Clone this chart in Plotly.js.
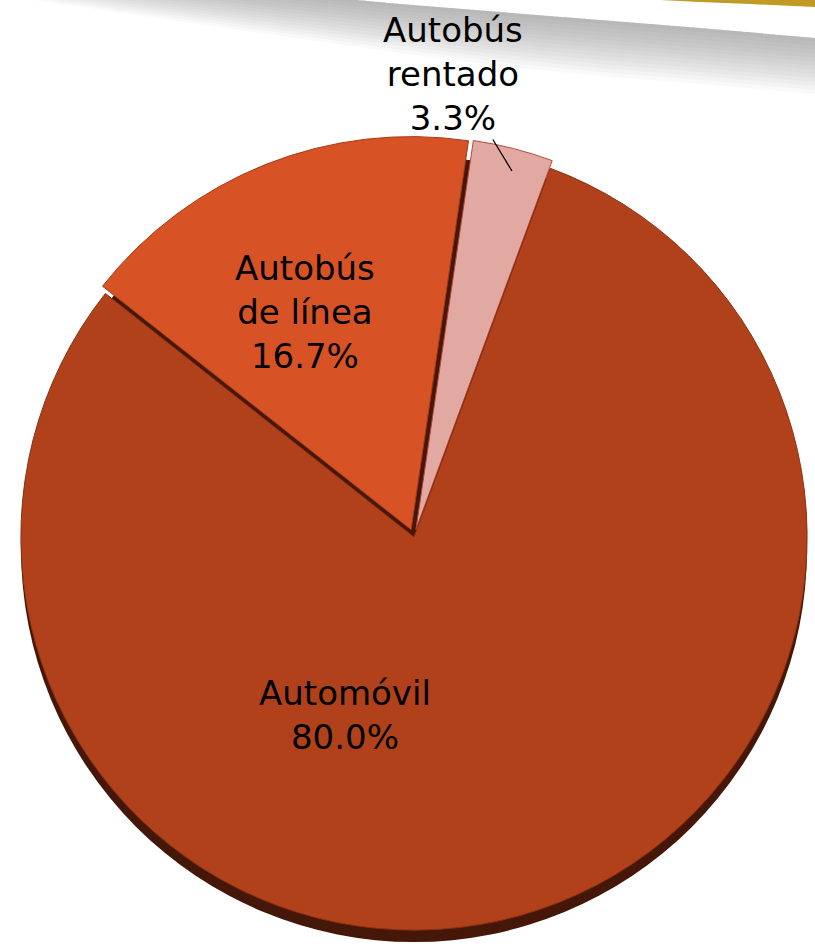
<!DOCTYPE html>
<html>
<head>
<meta charset="utf-8">
<script src="https://cdn.plot.ly/plotly-3.0.1.min.js"></script>
<style>html,body{margin:0;padding:0;background:#fff;}#chart{width:815px;height:948px;}</style>
</head>
<body>
<div id="chart"></div>
<script>
// ---- data ----
const categories = ['Autobús rentado', 'Automóvil', 'Autobús de línea'];
const labelLines = ['Autobús<br>rentado', 'Automóvil', 'Autobús<br>de línea'];
const shares = [3.3, 80.0, 16.7];

// ---- styles / label placement (pixels) ----
const sliceColors = ['#e2a9a2', '#b0411a', '#d75224'];
const sliceLines = ['#b8473a', '#8c3010', '#a63a14'];
const pulls = [0.02, 0, 0.02];
const labelCenters = [[453, 74], [345, 715], [305, 312]];
const labelArrowTip = [[512, 171], null, null];

const W = 815, H = 948;
function fx(x) { return x / W; }
function fy(y) { return 1 - y / H; }
function pathFrom(pts) {
  return 'M' + pts.map(p => fx(p[0]).toFixed(4) + ',' + fy(p[1]).toFixed(4)).join(' L') + ' Z';
}

// decorative swoosh in the top-right corner
const edge = [[-80,-45],[40,-30],[250,-10],[400,4],[500,12],[600,20],[700,28],[815,38]];
const shapes = [];
for (let i = 1; i <= 14; i++) {
  const d = i * 4;
  const lower = edge.map(p => {
    const t = Math.max(0, Math.min(1, (p[0] - 40) / 500));
    return [p[0], p[1] + d * (0.55 + 0.45 * t)];
  }).reverse();
  shapes.push({type: 'path', xref: 'paper', yref: 'paper', layer: 'below',
    path: pathFrom(edge.concat(lower)), fillcolor: '#5a5a5a', opacity: 0.038,
    line: {width: 0}});
}
shapes.push({type: 'path', xref: 'paper', yref: 'paper', layer: 'below',
  path: pathFrom([[660,0],[815,0],[815,7],[750,4],[700,2]]),
  fillcolor: '#c09a22', line: {width: 0}});

const shadow = {
  type: 'pie', values: [1], labels: ['sombra'], sort: false,
  marker: {colors: ['#441708'], line: {width: 0}},
  textinfo: 'none', hoverinfo: 'skip', showlegend: false,
  domain: {x: [0.0258, 0.9902], y: [0.0063, 0.8354]}
};

const pie = {
  type: 'pie',
  labels: categories,
  values: shares,
  textinfo: 'none',
  sort: false,
  direction: 'clockwise',
  rotation: 8.4,
  pull: pulls,
  marker: {colors: sliceColors, line: {color: sliceLines, width: 1}},
  hoverinfo: 'label+percent',
  showlegend: false,
  automargin: false,
  domain: {x: [0.01595, 1.0], y: [0.01055, 0.8565]}
};

const annotations = categories.map((c, i) => {
  const txt = labelLines[i] + '<br>' + shares[i].toFixed(1) + '%';
  const a = {
    xref: 'paper', yref: 'paper', text: txt,
    font: {family: 'DejaVu Sans', size: 34, color: '#000'},
    align: 'center', showarrow: false
  };
  const [cx, cy] = labelCenters[i];
  if (labelArrowTip[i]) {
    const [tx, ty] = labelArrowTip[i];
    Object.assign(a, {x: fx(tx), y: fy(ty), showarrow: true, arrowhead: 0,
      arrowwidth: 1.3, arrowcolor: '#000', standoff: 0,
      ax: cx - tx, ay: cy - ty});
  } else {
    Object.assign(a, {x: fx(cx), y: fy(cy), xanchor: 'center', yanchor: 'middle'});
  }
  return a;
});

const layout = {
  width: W, height: H,
  margin: {l: 0, r: 0, t: 0, b: 0},
  paper_bgcolor: '#ffffff',
  showlegend: false,
  shapes: shapes,
  annotations: annotations
};

Plotly.newPlot('chart', [shadow, pie], layout, {displayModeBar: false, staticPlot: true});
</script>
</body>
</html>
